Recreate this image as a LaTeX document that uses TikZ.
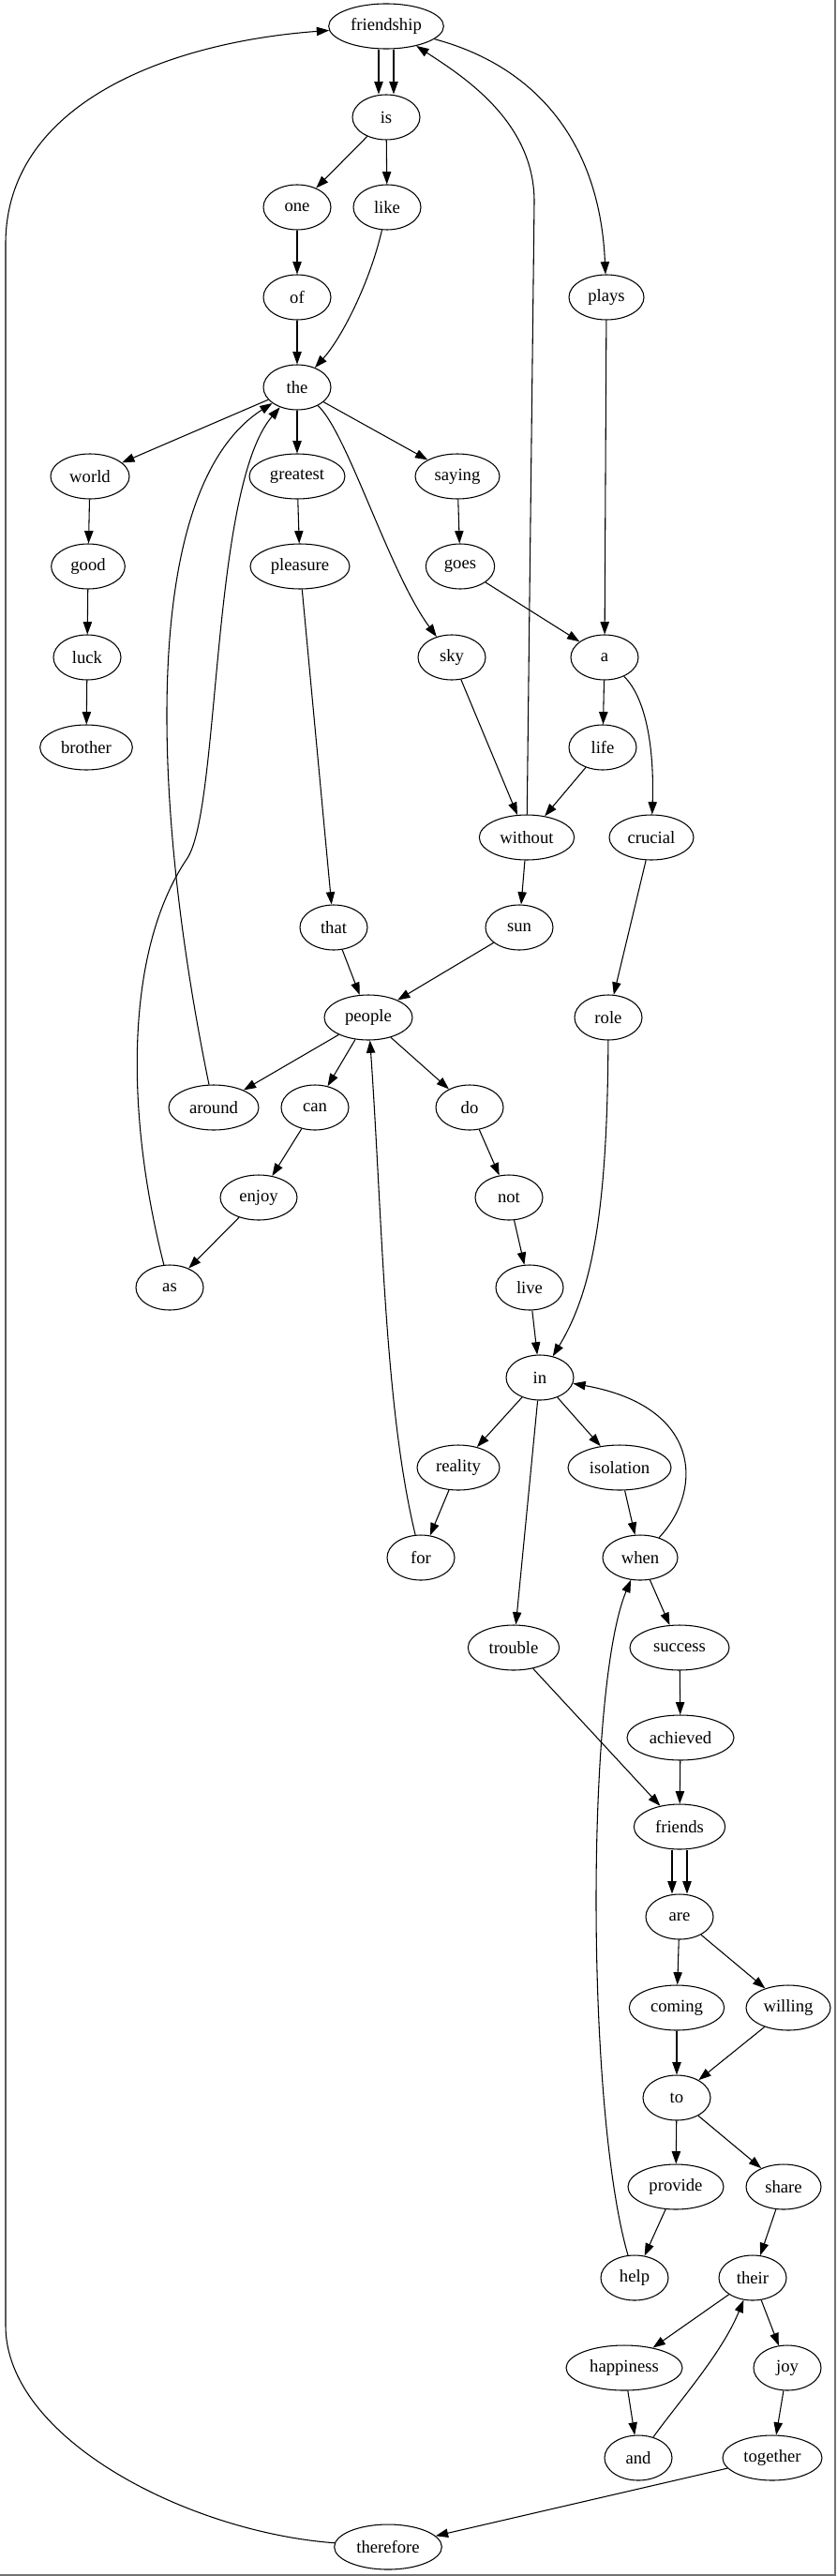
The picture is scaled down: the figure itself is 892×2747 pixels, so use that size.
\documentclass[tikz,border=0pt]{standalone}
\usepackage{fontspec}
\setmainfont{Liberation Serif}
\usetikzlibrary{shapes.geometric, arrows.meta}

\begin{document}
\begin{tikzpicture}[x=0.75pt, y=-0.75pt]
    \tikzstyle{arrow} = [line width=0.8pt, ->, >={Triangle[length=10pt, width=7pt]}]
    \tikzstyle{word} = [ellipse, draw = black, line width=0.8pt, inner sep=0pt, minimum width=54pt, minimum height=36pt, text centered, font=\fontsize{14}{16}\selectfont]

    \useasboundingbox (0,0) rectangle (892,2747);
    \fill[white] (0,0) rectangle (892,2747);
    \draw[black!55, line width=1.5pt] (891,0) -- (891,2746) -- (0,2746);

    % words, one row per rank
    \node[word, minimum width=92pt](friendship) at (412,28){friendship};
    \node[word](is) at (412,125){is};
    \node[word](one) at (317,221){one};
    \node[word](like) at (413,221){like};
    \node[word](of) at (317,317){of};
    \node[word, minimum width=60pt](plays) at (647,317){plays};
    \node[word](the) at (317,413){the};
    \node[word, minimum width=63pt](world) at (96,508){world};
    \node[word, minimum width=76.5pt](greatest) at (317,508){greatest};
    \node[word, minimum width=67.5pt](saying) at (488,508){saying};
    \node[word, minimum width=59pt](good) at (94,604){good};
    \node[word, minimum width=79.5pt](pleasure) at (320,604){pleasure};
    \node[word, minimum width=55pt](goes) at (491,604){goes};
    \node[word](luck) at (93,701){luck};
    \node[word](sky) at (482,701){sky};
    \node[word](a) at (645,701){a};
    \node[word, minimum width=74pt](brother) at (92,797){brother};
    \node[word](life) at (643,797){life};
    \node[word, minimum width=76pt](without) at (562,893){without};
    \node[word, minimum width=67.5pt](crucial) at (695,893){crucial};
    \node[word](that) at (356,989){that};
    \node[word](sun) at (554,989){sun};
    \node[word, minimum width=70.5pt](people) at (393,1085){people};
    \node[word](role) at (649,1085){role};
    \node[word, minimum width=72pt](around) at (228,1181){around};
    \node[word](can) at (336,1181){can};
    \node[word](do) at (501,1181){do};
    \node[word, minimum width=61.5pt](enjoy) at (276,1277){enjoy};
    \node[word](not) at (543,1277){not};
    \node[word](as) at (181,1373){as};
    \node[word](live) at (565,1373){live};
    \node[word](in) at (576,1469){in};
    \node[word, minimum width=66pt](reality) at (489,1565){reality};
    \node[word, minimum width=82.5pt](isolation) at (661,1565){isolation};
    \node[word](for) at (449,1661){for};
    \node[word, minimum width=60pt](when) at (683,1661){when};
    \node[word, minimum width=73pt](trouble) at (548,1757){trouble};
    \node[word, minimum width=79.5pt](success) at (725,1757){success};
    \node[word, minimum width=85.5pt](achieved) at (726,1853){achieved};
    \node[word, minimum width=73pt](friends) at (725,1948){friends};
    \node[word](are) at (725,2044){are};
    \node[word, minimum width=76pt](coming) at (722,2141){coming};
    \node[word, minimum width=67.5pt](willing) at (841,2141){willing};
    \node[word](to) at (722,2237){to};
    \node[word, minimum width=76.5pt](provide) at (721,2332){provide};
    \node[word, minimum width=60pt](share) at (836,2332){share};
    \node[word](help) at (677,2429){help};
    \node[word](their) at (803,2429){their};
    \node[word, minimum width=93pt](happiness) at (666,2525){happiness};
    \node[word](joy) at (840,2525){joy};
    \node[word](and) at (681,2621){and};
    \node[word, minimum width=79.5pt](together) at (824,2621){together};
    \node[word, minimum width=86pt](therefore) at (414,2716){therefore};

    % straight edges
    \draw[arrow]([xshift=-6pt]friendship.south)--([xshift=-6pt]is.north);
    \draw[arrow]([xshift=6pt]friendship.south)--([xshift=6pt]is.north);
    \draw[arrow](is)--(one);
    \draw[arrow](is)--(like);
    \draw[arrow](one)--(of);
    \draw[arrow](of)--(the);
    \draw[arrow](plays)--(a);
    \draw[arrow](the)--(world);
    \draw[arrow](the)--(greatest);
    \draw[arrow](the)--(saying);
    \draw[arrow](world)--(good);
    \draw[arrow](good)--(luck);
    \draw[arrow](luck)--(brother);
    \draw[arrow](greatest)--(pleasure);
    \draw[arrow](pleasure)--(that);
    \draw[arrow](saying)--(goes);
    \draw[arrow](goes)--(a);
    \draw[arrow](a)--(life);
    \draw[arrow](sky)--(without);
    \draw[arrow](life)--(without);
    \draw[arrow](without)--(sun);
    \draw[arrow](crucial)--(role);
    \draw[arrow](that)--(people);
    \draw[arrow](sun)--(people);
    \draw[arrow](people)--(around);
    \draw[arrow](people)--(can);
    \draw[arrow](people)--(do);
    \draw[arrow](can)--(enjoy);
    \draw[arrow](enjoy)--(as);
    \draw[arrow](do)--(not);
    \draw[arrow](not)--(live);
    \draw[arrow](live)--(in);
    \draw[arrow](in)--(reality);
    \draw[arrow](in)--(isolation);
    \draw[arrow](in)--(trouble);
    \draw[arrow](reality)--(for);
    \draw[arrow](isolation)--(when);
    \draw[arrow](when)--(success);
    \draw[arrow](success)--(achieved);
    \draw[arrow](achieved)--(friends);
    \draw[arrow](trouble)--(friends);
    \draw[arrow]([xshift=-6pt]friends.south)--([xshift=-6pt]are.north);
    \draw[arrow]([xshift=6pt]friends.south)--([xshift=6pt]are.north);
    \draw[arrow](are)--(coming);
    \draw[arrow](are)--(willing);
    \draw[arrow](coming)--(to);
    \draw[arrow](willing)--(to);
    \draw[arrow](to)--(provide);
    \draw[arrow](to)--(share);
    \draw[arrow](provide)--(help);
    \draw[arrow](share)--(their);
    \draw[arrow](their)--(happiness);
    \draw[arrow](their)--(joy);
    \draw[arrow](happiness)--(and);
    \draw[arrow](joy)--(together);
    \draw[arrow](together)--(therefore);

    % curved edges
    \draw[arrow](like) .. controls (395,300) and (365,360) .. (the);
    \draw[arrow](friendship) .. controls (570,70) and (640,150) .. (plays);
    \draw[arrow](without) -- (570,215) .. controls (570,130) and (495,82) .. (friendship);
    \draw[arrow](the) .. controls (370,460) and (415,610) .. (sky);
    \draw[arrow](a) .. controls (690,745) and (698,800) .. (crucial);
    \draw[arrow](around) .. controls (160,850) and (150,520) .. (the);
    \draw[arrow](as) .. controls (132,1180) and (135,1010) .. (200,915) .. controls (235,860) and (225,520) .. (the);
    \draw[arrow](role) .. controls (648,1300) and (630,1380) .. (in);
    \draw[arrow](for) .. controls (410,1500) and (408,1300) .. (people);
    \draw[arrow](when) .. controls (750,1590) and (750,1500) .. (in);
    \draw[arrow](help) .. controls (625,2250) and (625,1800) .. (when);
    \draw[arrow](and) .. controls (725,2560) and (770,2510) .. (their);
    \draw[arrow](therefore) .. controls (200,2700) and (6,2600) .. (6,2480) -- (6,260) .. controls (6,110) and (180,45) .. (friendship);

\end{tikzpicture}
\end{document}
